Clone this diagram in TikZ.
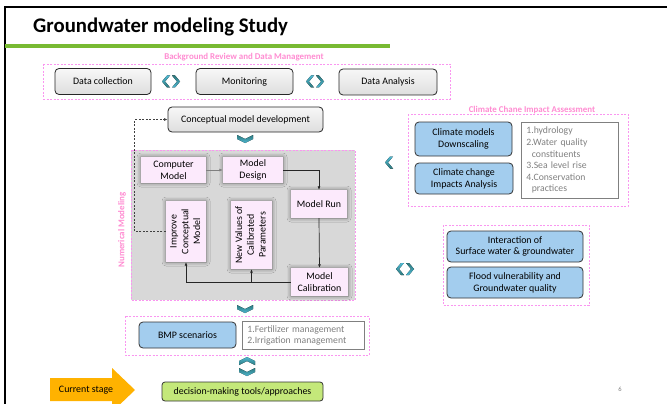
\documentclass[tikz,border=0pt]{standalone}
\usepackage{fontspec}
\usepackage{graphicx}
\setmainfont{Carlito}
\usetikzlibrary{arrows.meta,shadows.blur}
\definecolor{pinkd}{RGB}{250,150,240}
\definecolor{pinkt}{RGB}{255,140,210}
\definecolor{pinkfill}{RGB}{252,234,252}
\definecolor{bluefill}{RGB}{163,205,238}
\definecolor{greenfill}{RGB}{196,232,122}
\definecolor{greenbar}{RGB}{120,186,50}
\definecolor{regiongray}{RGB}{216,216,216}
\definecolor{orangearrow}{RGB}{255,178,0}
\definecolor{chevA}{RGB}{80,185,210}
\definecolor{chevB}{RGB}{45,120,125}
\definecolor{listgray}{RGB}{128,128,128}
\tikzset{
  boxfont/.style={font=\fontsize{9.9}{11.8}\selectfont},
  graybox/.style={boxfont, draw=black!85, line width=0.8pt, rounded corners=4pt,
    top color=gray!6, bottom color=gray!26, inner sep=0pt, align=center},
  pinkbox/.style={boxfont, fill=pinkfill, inner sep=0pt, align=center,
    blur shadow={shadow xshift=0pt, shadow yshift=0pt, shadow blur radius=4pt, shadow opacity=50}},
  bluebox/.style={boxfont, draw=black!80, line width=0.8pt, rounded corners=4pt,
    fill=bluefill, inner sep=0pt, align=center},
  listbox/.style={font=\fontsize{9.7}{11.6}\selectfont, draw=listgray, line width=0.8pt, fill=white,
    text=listgray, align=left, anchor=north west, inner xsep=5pt, inner ysep=0pt},
  pinkdash/.style={draw=pinkd, line width=0.8pt, dash pattern=on 2pt off 1.5pt},
  pinklabel/.style={text=pinkt, font=\fontsize{8.9}{10}\bfseries\selectfont, inner sep=0pt},
  flow/.style={draw=black!85, line width=0.7pt, -{Latex[length=3.5pt,width=3pt]}},
  grayflow/.style={draw=gray, line width=0.9pt, -{Latex[length=3.5pt,width=3pt]}},
  dashflow/.style={draw=black!75, line width=0.7pt, dash pattern=on 2pt off 1.5pt, -{Latex[length=3.5pt,width=3pt]}},
  chevL/.style={top color=chevA, bottom color=chevB},
  chevR/.style={top color=chevB, bottom color=chevA},
  pics/lchev/.style={code={\fill[chevL] (4,-6) -- (-1,0) -- (4,6) -- (1,6) -- (-4,0) -- (1,-6) -- cycle;}},
  pics/rchev/.style={code={\fill[chevR] (-4,-6) -- (1,0) -- (-4,6) -- (-1,6) -- (4,0) -- (-1,-6) -- cycle;}},
  pics/dchev/.style={code={\fill[top color=chevB, bottom color=chevA] (-8,-4) -- (0,0) -- (8,-4) -- (8,0) -- (0,4) -- (-8,0) -- cycle;}},
  pics/uchev/.style={code={\fill[top color=chevA, bottom color=chevB] (-8,4) -- (0,0) -- (8,4) -- (8,0) -- (0,-4) -- (-8,0) -- cycle;}},
}
\begin{document}
\begin{tikzpicture}[x=1pt,y=-1pt]
\useasboundingbox (0,0) rectangle (667,404);
\fill[white] (0,0) rectangle (667,404);
% frame
\draw[line width=2.2pt] (5,404) -- (5,7) -- (667,7);
\draw[greenbar, line width=4pt] (5,46) -- (390,46);
\node[anchor=base west, inner sep=0pt, font=\fontsize{20.8}{24}\bfseries\selectfont] (title) at (33,33) {Groundwater modeling Study};

% Background review
\draw[pinkdash] (43,64) rectangle (450,99);
\node[pinklabel] (bglab) at (244,57) {Background Review and Data Management};
\node[graybox, minimum width=96pt, minimum height=26pt] (dc) at (103,81.5) {Data collection};
\node[graybox, minimum width=97pt, minimum height=26pt] (mon) at (244.5,81.5) {Monitoring};
\node[graybox, minimum width=98pt, minimum height=26pt] (da) at (388,82) {Data Analysis};
\pic at (166,81.5) {lchev};
\pic at (176,81.5) {rchev};
\pic at (310,81.5) {lchev};
\pic at (320,81.5) {rchev};

% Conceptual
\node[graybox, minimum width=155pt, minimum height=25pt] (cmd) at (245.5,119.5) {Conceptual model development};
\pic at (245,139) {dchev};

% Numerical modeling region
\fill[regiongray] (131,150) rectangle (355,300);
\draw[pinkdash] (131,150) rectangle (355,300);
\node[pinklabel, rotate=90] (numlab) at (122,230) {Numerical Modeling};
\node[pinkbox, minimum width=65pt, minimum height=26pt] (cm) at (173.5,170) {Computer\\Model};
\node[pinkbox, minimum width=60pt, minimum height=26pt] (md) at (253,170) {Model\\Design};
\node[pinkbox, minimum width=56pt, minimum height=28pt] (mr) at (319,204) {Model Run};
\node[pinkbox, minimum width=40pt, minimum height=61pt] (icm) at (186,231.5)
  {\rotatebox{90}{\begin{tabular}{@{}c@{}}Improve\\Conceptual\\Model\end{tabular}}};
\node[pinkbox, minimum width=41pt, minimum height=68pt] (nv) at (251.5,235)
  {\rotatebox{90}{\begin{tabular}{@{}c@{}}New Values of\\Calibrated\\Parameters\end{tabular}}};
\node[pinkbox, minimum width=57pt, minimum height=28pt] (mc) at (319.5,282) {Model\\Calibration};
\draw[grayflow] (cm.east) -- (md.west);
\draw[flow] (md.east) -| (mr.north);
\draw[flow] (mr.south) -- (mc.north);
\draw[flow] (mc.west) -| (icm.south);
\draw[flow] (nv.south |- mc.west) -- (nv.south);
\draw[dashflow] (icm.west) -- ++(-31,0) |- (cmd.west);
\pic at (245,309) {dchev};

% BMP
\draw[pinkdash] (125,316) rectangle (369,355);
\node[bluebox, minimum width=97pt, minimum height=26pt] (bmp) at (187.5,335) {BMP scenarios};
\node[listbox, minimum width=122pt, minimum height=28pt, text width=112pt] (bmplist) at (242,321)
  {1.Fertilizer management\\2.Irrigation management};
\pic at (247,361) {uchev};
\pic at (247,372) {dchev};

% decision
\node[boxfont, draw=black!80, line width=0.8pt, rounded corners=3pt, fill=greenfill,
  minimum width=161pt, minimum height=19pt, inner sep=0pt] (dmt) at (242.5,391.5) {decision-making tools/approaches};
\fill[orangearrow] (50,378) -- (112,378) -- (112,368) -- (135,390) -- (112,412) -- (112,401) -- (50,401) -- cycle;
\node[boxfont, inner sep=0pt] (cs) at (86,390) {Current stage};
\node[font=\fontsize{6.5}{8}\selectfont, text=listgray, inner sep=0pt] (pg) at (620,389) {6};

% Climate
\draw[pinkdash] (408,114) rectangle (628,206);
\node[pinklabel] (cllab) at (532,110) {Climate Chane Impact Assessment};
\node[bluebox, minimum width=97pt, minimum height=34pt] (cmdown) at (463.5,139) {Climate models\\Downscaling};
\node[bluebox, minimum width=98pt, minimum height=31pt] (cci) at (464,178.5) {Climate change\\Impacts Analysis};
\node[listbox, minimum width=97pt, minimum height=76pt, text width=87pt] (clist) at (521,122)
  {1.hydrology\\2.Water quality\\\hspace*{5.5pt}constituents\\3.Sea level rise\\4.Conservation\\\hspace*{5.5pt}practices};
\pic at (389,162.5) {lchev};

% Interaction
\draw[pinkdash] (443,225) rectangle (589,305);
\node[bluebox, minimum width=136pt, minimum height=31pt] (isw) at (515,246.5) {Interaction of\\Surface water \& groundwater};
\node[bluebox, minimum width=136pt, minimum height=31pt] (flood) at (515,282.5) {Flood vulnerability and\\Groundwater quality};
\pic at (400,269) {lchev};
\pic at (410,269) {rchev};
\end{tikzpicture}
\end{document}
